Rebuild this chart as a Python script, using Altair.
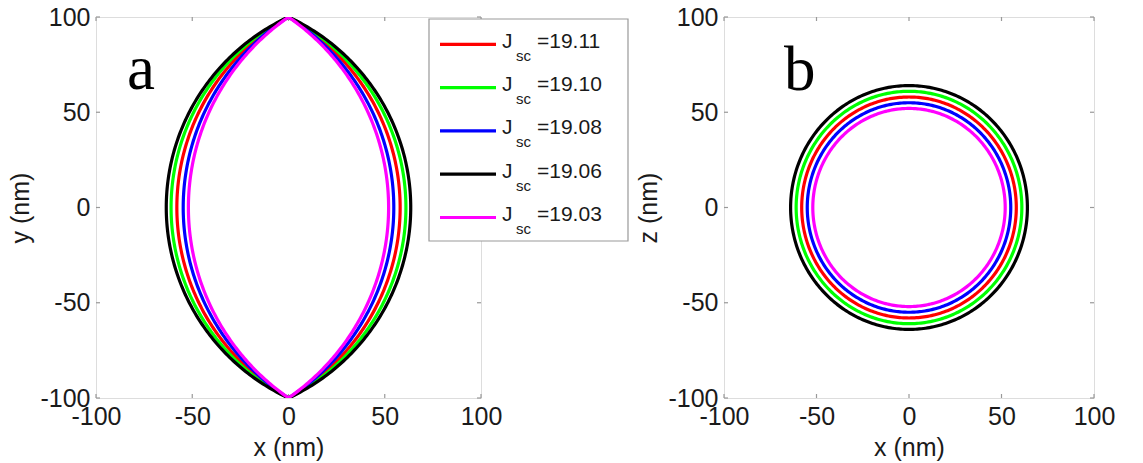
import altair as alt
import numpy as np
import pandas as pd

# ---- data ----
labels = ["19.11", "19.10", "19.08", "19.06", "19.03"]
colors = ["#ff0000", "#00ff00", "#0000ff", "#000000", "#ff00ff"]
lens_half_width = [58.0, 61.0, 54.7, 63.5, 52.0]   # panel a, x at y=0 (nm)
lens_tip = [100.0, 100.0, 100.0, 100.0, 100.0]      # panel a, tips at y=+-100
circle_radius = [58.0, 61.0, 55.0, 64.0, 52.0]      # panel b (nm)
tick_values = [-100, -50, 0, 50, 100]

FONT = "Liberation Sans"
TXT = "#1a1a1a"
FRAME = "#999999"
WA, WB, H = 385, 370, 381

# ---- build curve tables ----
rows_a = []
for lab, w, tip in zip(labels, lens_half_width, lens_tip):
    R = (w ** 2 + tip ** 2) / (2 * w)
    c = w - R
    a = np.arcsin(tip / R)
    t = np.linspace(-a, a, 181)
    xr = c + R * np.cos(t)
    yr = R * np.sin(t)
    xs = np.concatenate([xr, -xr[::-1]])
    ys = np.concatenate([yr, yr[::-1]])
    for k, (x, y) in enumerate(zip(xs, ys)):
        rows_a.append({"s": lab, "o": k, "x": float(x), "y": float(y)})
df_a = pd.DataFrame(rows_a)

rows_b = []
for lab, r in zip(labels, circle_radius):
    t = np.linspace(0, 2 * np.pi, 361)
    for k, tt in enumerate(t):
        rows_b.append({"s": lab, "o": k, "x": float(r * np.cos(tt)), "y": float(r * np.sin(tt))})
df_b = pd.DataFrame(rows_b)

df_ticks = pd.DataFrame({"v": tick_values})

color_scale = alt.Scale(domain=labels, range=colors)


def axis(title):
    return alt.Axis(values=tick_values, ticks=False, grid=False, domain=False,
                    labelExpr="'' + datum.value",
                    labelFontSize=25, labelFont=FONT, labelColor=TXT, labelPadding=6,
                    labelFlush=False, labelOverlap=False, labelBound=False,
                    title=title, titleFontSize=25, titleFont=FONT, titleColor=TXT,
                    titleFontWeight="normal", titlePadding=6)


def panel(df, ytitle, letter, letter_xy, width):
    X = alt.X("x:Q", scale=alt.Scale(domain=[-100, 100], nice=False, zero=False), axis=axis("x (nm)"))
    Y = alt.Y("y:Q", scale=alt.Scale(domain=[-100, 100], nice=False, zero=False), axis=axis(ytitle))
    lines = alt.Chart(df).mark_line(strokeWidth=3.2, clip=True).encode(
        x=X, y=Y,
        color=alt.Color("s:N", scale=color_scale, legend=None),
        order="o:Q",
    )
    TX = alt.X("v:Q", scale=alt.Scale(domain=[-100, 100], nice=False, zero=False), axis=axis("x (nm)"))
    TY = alt.Y("v:Q", scale=alt.Scale(domain=[-100, 100], nice=False, zero=False), axis=axis(ytitle))
    tk = dict(color=FRAME, strokeWidth=1.2)
    tb = alt.Chart(df_ticks).mark_rule(**tk).encode(x=TX, y=alt.value(H), y2=alt.value(H - 4))
    tt = alt.Chart(df_ticks).mark_rule(**tk).encode(x=TX, y=alt.value(0), y2=alt.value(4))
    tl = alt.Chart(df_ticks).mark_rule(**tk).encode(y=TY, x=alt.value(0), x2=alt.value(4))
    tr = alt.Chart(df_ticks).mark_rule(**tk).encode(y=TY, x=alt.value(width), x2=alt.value(width - 4))
    let = alt.Chart(df_ticks.head(1)).mark_text(
        text=letter, font="Liberation Serif", fontSize=63, align="left", baseline="alphabetic", color="#000000"
    ).encode(x=alt.value(letter_xy[0]), y=alt.value(letter_xy[1]))
    return [tb, tt, tl, tr, lines, let]


layers_a = panel(df_a, "y (nm)", "a", (31, 72), WA)
layers_b = panel(df_b, "z (nm)", "b", (60, 73), WB)

# ---- hand-made legend (subscripted labels) in panel a ----
one = pd.DataFrame({"k": [0]})
leg = [alt.Chart(one).mark_rect(fill="white", stroke=FRAME, strokeWidth=1.2).encode(
    x=alt.value(333), x2=alt.value(532), y=alt.value(2), y2=alt.value(224))]
y0, dy = 27.3, 43.3
for i, (lab, col) in enumerate(zip(labels, colors)):
    yy = y0 + i * dy
    leg.append(alt.Chart(one).mark_rule(color=col, strokeWidth=3.2).encode(
        x=alt.value(344), x2=alt.value(400), y=alt.value(yy)))
    leg.append(alt.Chart(one).mark_text(text="J", font=FONT, fontSize=21, align="left",
                                        baseline="alphabetic", color=TXT).encode(
        x=alt.value(406), y=alt.value(yy + 3.5)))
    leg.append(alt.Chart(one).mark_text(text="sc", font=FONT, fontSize=15, align="left",
                                        baseline="alphabetic", color=TXT).encode(
        x=alt.value(420), y=alt.value(yy + 16.5)))
    leg.append(alt.Chart(one).mark_text(text="=" + lab, font=FONT, fontSize=21, align="left",
                                        baseline="alphabetic", color=TXT).encode(
        x=alt.value(441), y=alt.value(yy + 3.5)))

chart_a = alt.layer(*layers_a, *leg).properties(width=WA, height=H)
chart_b = alt.layer(*layers_b).properties(width=WB, height=H)

chart = alt.hconcat(chart_a, chart_b, spacing=243, bounds="flush").properties(
    padding={"left": 0, "top": -4, "right": 0, "bottom": 0}
).configure_view(stroke=FRAME, strokeWidth=1.5).configure(background="white")

chart.save("out.html", embed_options={"renderer": "svg", "actions": False})
